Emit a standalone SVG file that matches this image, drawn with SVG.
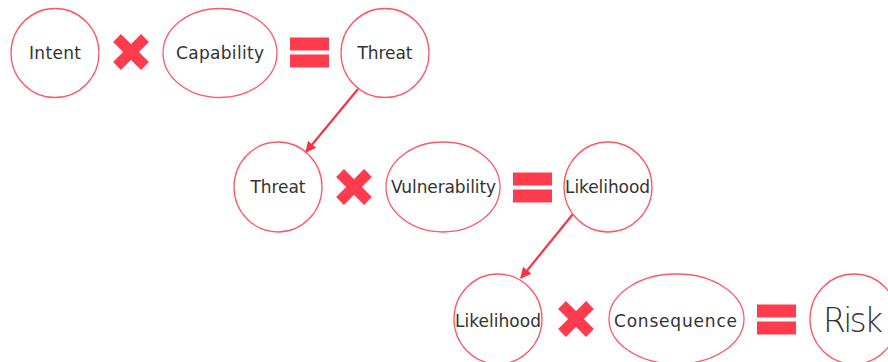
<svg xmlns="http://www.w3.org/2000/svg" width="888" height="362" viewBox="0 0 888 362">
<style>
.n{fill:#fff;stroke:#ff5766;stroke-width:1.3}
.t{font-family:"DejaVu Sans","Liberation Sans",sans-serif;font-size:17px;fill:#333;text-anchor:middle;dominant-baseline:central}
.op{fill:#ff3b4e}
.x{stroke:#ff3b4e;stroke-width:11;stroke-linecap:butt}
.c{stroke:#f53447;stroke-width:2.2;fill:none}
</style>
<defs>
<marker id="ah" viewBox="0 0 10 10" refX="9" refY="5" markerWidth="5" markerHeight="5" orient="auto" markerUnits="strokeWidth">
<path d="M0,0L10,5L0,10z" fill="#f53447"/>
</marker>
<g id="mul"><line class="x" x1="-14" y1="-14" x2="14" y2="14"/><line class="x" x1="14" y1="-14" x2="-14" y2="14"/></g>
<g id="eq"><rect class="op" x="-19.5" y="-15" width="39" height="13"/><rect class="op" x="-19.5" y="2" width="39" height="13"/></g>
</defs>
<g id="connectors">
<line class="c" x1="358" y1="89" x2="306" y2="152" marker-end="url(#ah)"/>
<line class="c" x1="573" y1="214" x2="521" y2="278" marker-end="url(#ah)"/>
</g>
<g id="intent"><ellipse class="n" cx="55" cy="53" rx="44" ry="44.5"/><text class="t" x="55" y="53" textLength="52">Intent</text></g>
<use href="#mul" x="131" y="52"/>
<g id="capability"><ellipse class="n" cx="220" cy="53" rx="57" ry="44.5"/><text class="t" x="220" y="53" textLength="88">Capability</text></g>
<use href="#eq" x="309.5" y="52.5"/>
<g id="threat1"><ellipse class="n" cx="385" cy="53" rx="44" ry="44.5"/><text class="t" x="385" y="53" textLength="55">Threat</text></g>

<g id="threat2"><ellipse class="n" cx="278" cy="187" rx="44" ry="45"/><text class="t" x="278" y="187" textLength="55">Threat</text></g>
<use href="#mul" x="354" y="187"/>
<g id="vulnerability"><ellipse class="n" cx="443" cy="187" rx="57" ry="45"/><text class="t" x="443.5" y="187" textLength="105">Vulnerability</text></g>
<use href="#eq" x="532.5" y="187.5"/>
<g id="likelihood1"><ellipse class="n" cx="608" cy="187" rx="44" ry="45"/><text class="t" x="607.5" y="187" textLength="85">Likelihood</text></g>

<g id="likelihood2"><ellipse class="n" cx="498" cy="319" rx="44" ry="45"/><text class="t" x="498" y="321" textLength="86">Likelihood</text></g>
<use href="#mul" x="576" y="319"/>
<g id="consequence"><ellipse class="n" cx="676.5" cy="319" rx="67.5" ry="45"/><text class="t" x="675.5" y="321" textLength="123">Consequence</text></g>
<use href="#eq" x="776.5" y="319.5"/>
<g id="risk"><ellipse class="n" cx="854" cy="319" rx="44" ry="45"/><text class="t" x="853" y="320" style="font-size:33px;font-weight:300" textLength="60">Risk</text></g>
</svg>
